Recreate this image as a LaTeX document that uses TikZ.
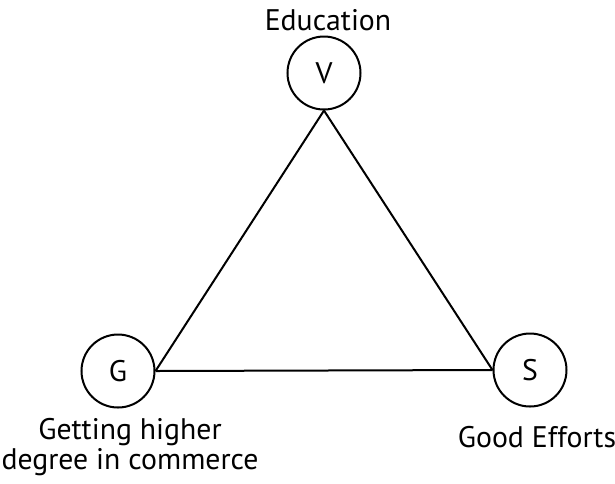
\documentclass[tikz,border=0pt]{standalone}
\usepackage{fontspec}
\setmainfont{PT Sans}
\usetikzlibrary{positioning}

\begin{document}
\begin{tikzpicture}[
  x=0.4pt, y=-0.4pt,
  font=\fontsize{11.9}{12}\selectfont,
  vtx/.style={draw, circle, line width=0.8pt, minimum size=29.2pt, inner sep=0pt},
  edg/.style={line width=0.8pt},
  lbl/.style={inner sep=0pt, align=center}
]
  \useasboundingbox (0,0) rectangle (615,483);

  %--- vertices ---
  \node[vtx] (V) at (324,73)  {V};
  \node[vtx] (G) at (118,371) {G};
  \node[vtx] (S) at (530,370) {S};

  %--- labels ---
  \node[lbl, anchor=base] (lV) at (328,30)  {Education};
  \node[lbl, anchor=base] (lS) at (537,447) {Good Efforts};
  \node[lbl, anchor=north] (lG) at (130,418) {Getting higher\\degree in commerce};

  %--- edges ---
  \draw[edg] (V.south) -- (G.east);
  \draw[edg] (G.east) -- (S.west);
  \draw[edg] (S.west) -- (V.south);
\end{tikzpicture}
\end{document}
